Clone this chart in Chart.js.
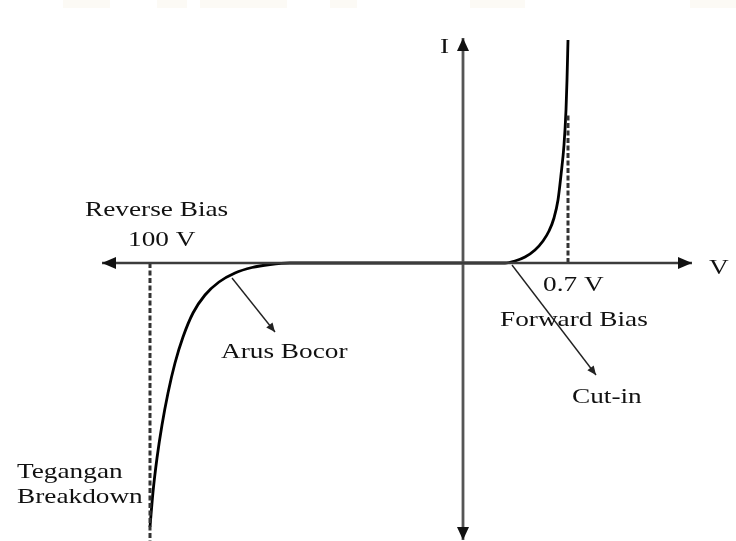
<!DOCTYPE html>
<html>
<head>
    <meta charset="UTF-8">
    <title>Karakteristik Dioda</title>
    <style>
        body { margin: 0; background: #fff; }
        canvas { display: block; }
    </style>
    <script src="https://cdnjs.cloudflare.com/ajax/libs/Chart.js/4.4.1/chart.umd.min.js"></script>
</head>
<body>
    <canvas id="diodeGraph" width="736" height="541"></canvas>

    <script>
        // diagram units (not real volts/amps), origin where the axes cross
        const curveX = [-31.3, -31.0, -30.6, -30.1, -29.5, -28.8, -28.0, -27.0, -25.8, -24.4, -22.8, -21.1, -19.3, -17.3,
                        -8.0, 0, 4.2, 5.2, 6.2, 7.2, 8.0, 8.6, 9.1, 9.5, 9.8, 10.1, 10.3, 10.4, 10.5];
        const curveY = [-26.4, -22.9, -19.5, -16.2, -13.0, -10.0, -7.4, -5.0, -3.2, -1.9, -1.0, -0.45, -0.15, 0,
                        0, 0, 0, 0.2, 0.6, 1.3, 2.2, 3.2, 4.5, 6.3, 8.8, 11.8, 15.3, 18.3, 22.3];

        const axisV = [-36.1, 22.9];      // left tip, right tip
        const axisI = [22.5, -27.7];      // top tip, bottom tip
        const breakdownV = -31.3;         // "100 V"
        const kneeV = 10.5;               // "0.7 V"
        const kneeTop = 15.0;

        const leakArrow = [[-23.1, -1.5], [-18.8, -6.9]];
        const cutinArrow = [[4.9, -0.2], [13.3, -11.2]];

        const labelTexts = ["I", "V", "Reverse Bias", "100 V", "0.7 V", "Forward Bias", "Cut-in", "Arus Bocor", "Tegangan", "Breakdown"];
        const labelX = [-2.3, 24.6, -37.8, -33.5, 8.0, 3.7, 10.9, -24.2, -44.6, -44.6];
        const labelY = [21.6, -0.5, 5.3, 2.3, -2.2, -5.7, -13.4, -8.9, -20.9, -23.4];

        const pts = (xs, ys) => xs.map((x, i) => ({ x: x, y: ys[i] }));

        const extras = {
            id: "extras",
            beforeDraw(chart) {
                const c = chart.ctx;
                c.save();
                c.fillStyle = "#fff";
                c.fillRect(0, 0, chart.width, chart.height);
                // faint remains of a watermark along the top edge
                c.fillStyle = "rgba(240,230,200,0.18)";
                [[63, 47], [157, 30], [200, 87], [330, 27], [470, 55], [690, 46]].forEach(r => c.fillRect(r[0], 0, r[1], 8));
                c.restore();
            },
            afterDatasetsDraw(chart) {
                const c = chart.ctx;
                const xs = chart.scales.x, ys = chart.scales.y;
                c.save();
                chart.data.datasets.forEach(ds => {
                    if (!ds.heads) return;
                    const d = ds.data;
                    ds.heads.forEach(h => {
                        const tip = h === "end" ? d[d.length - 1] : d[0];
                        const from = h === "end" ? d[d.length - 2] : d[1];
                        const tx = xs.getPixelForValue(tip.x), ty = ys.getPixelForValue(tip.y);
                        const fx = xs.getPixelForValue(from.x), fy = ys.getPixelForValue(from.y);
                        const a = Math.atan2(ty - fy, tx - fx);
                        const len = ds.headLen, w = ds.headW;
                        c.fillStyle = ds.headColor || ds.borderColor;
                        c.beginPath();
                        c.moveTo(tx, ty);
                        c.lineTo(tx - len * Math.cos(a) + w * Math.sin(a), ty - len * Math.sin(a) - w * Math.cos(a));
                        c.lineTo(tx - len * Math.cos(a) - w * Math.sin(a), ty - len * Math.sin(a) + w * Math.cos(a));
                        c.closePath();
                        c.fill();
                    });
                });

                c.fillStyle = "#111";
                c.font = "22px 'Liberation Serif', 'Times New Roman', serif";
                c.textBaseline = "middle";
                c.textAlign = "left";
                labelTexts.forEach((t, i) => {
                    c.save();
                    c.translate(xs.getPixelForValue(labelX[i]), ys.getPixelForValue(labelY[i]));
                    c.scale(1.24, 1);
                    c.fillText(t, 0, 0);
                    c.restore();
                });
                c.restore();
            }
        };

        const base = { showLine: true, pointRadius: 0, fill: false, tension: 0 };

        const diodeGraph = new Chart(document.getElementById("diodeGraph"), {
            type: "scatter",
            data: {
                datasets: [
                    { ...base, label: "axis V", data: pts(axisV, [0, 0]), borderColor: "#3c3c3c", borderWidth: 2.6,
                      heads: ["start", "end"], headLen: 14, headW: 6, headColor: "#111" },
                    { ...base, label: "axis I", data: pts([0, 0], axisI), borderColor: "#555", borderWidth: 2.8,
                      heads: ["start", "end"], headLen: 13, headW: 6, headColor: "#111" },
                    { ...base, label: "100 V", data: pts([breakdownV, breakdownV], [0, axisI[1] - 0.2]), borderColor: "#333",
                      borderWidth: 3, borderDash: [5, 2.5] },
                    { ...base, label: "0.7 V", data: pts([kneeV, kneeV], [0, kneeTop]), borderColor: "#333",
                      borderWidth: 3, borderDash: [5, 2.5] },
                    { ...base, label: "Arus Bocor", data: leakArrow.map(p => ({ x: p[0], y: p[1] })), borderColor: "#222",
                      borderWidth: 1.4, heads: ["end"], headLen: 9, headW: 4 },
                    { ...base, label: "Cut-in", data: cutinArrow.map(p => ({ x: p[0], y: p[1] })), borderColor: "#222",
                      borderWidth: 1.4, heads: ["end"], headLen: 9, headW: 4 },
                    { ...base, label: "I-V", data: pts(curveX, curveY), borderColor: "#000", borderWidth: 2.8,
                      cubicInterpolationMode: "monotone" },
                ],
            },
            options: {
                responsive: false,
                devicePixelRatio: 1,
                animation: false,
                layout: { padding: 0 },
                plugins: { legend: { display: false }, tooltip: { enabled: false } },
                scales: {
                    x: { type: "linear", display: false, min: -46.3, max: 27.3 },
                    y: { type: "linear", display: false, min: -27.8, max: 26.3 },
                },
            },
            plugins: [extras],
        });
    </script>
</body>
</html>
